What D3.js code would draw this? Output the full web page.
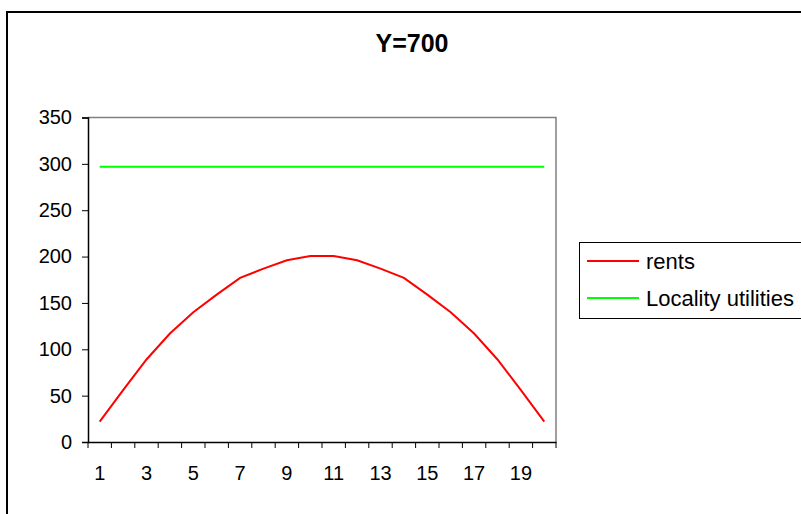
<!DOCTYPE html>
<html><head><meta charset="utf-8">
<script src="https://cdn.jsdelivr.net/npm/d3@7"></script>
<style>body{margin:0;background:#fff;} svg{display:block;font-family:"Liberation Sans",Arial,sans-serif;}</style>
</head><body>
<svg id="c" width="801" height="514"></svg>
<script>
const title = "Y=700";
const categories = d3.range(1, 21);
const rents = [22, 56, 89, 117, 140, 159, 177, 187, 196, 200.5, 200.5, 196, 187, 177, 159, 140, 117, 89, 56, 22];
const utilities = Array(20).fill(297);
const yTicks = [0, 50, 100, 150, 200, 250, 300, 350];
const seriesNames = ["rents", "Locality utilities"];
const seriesColors = ["#ff0000", "#00ff00"];

const svg = d3.select("#c");
svg.append("rect").attr("x", 7).attr("y", 12).attr("width", 900).attr("height", 600)
  .attr("fill", "#fff").attr("stroke", "#000").attr("stroke-width", 2);

const L = 88, R = 556, T = 117.5, B = 442;
const x = d3.scaleBand().domain(categories).range([L, R]);
const y = d3.scaleLinear().domain([0, 350]).range([B, T]);
const FONT = "Liberation Sans, Arial, sans-serif";

// plot frame
svg.append("path").attr("d", `M${L},${T}H${R}V${B}`).attr("fill", "none").attr("stroke", "#808080").attr("stroke-width", 1.5);

// y axis
const ya = svg.append("g").attr("transform", `translate(${L},0)`)
  .call(d3.axisLeft(y).tickValues(yTicks).tickSize(6).tickPadding(10));
ya.select(".domain").attr("stroke", "#000").attr("stroke-width", 1.5);
ya.selectAll(".tick line").attr("stroke", "#000");
ya.selectAll("text").attr("font-size", 20).attr("fill", "#000").attr("font-family", FONT);

// x axis
const xa = svg.append("g").attr("transform", `translate(0,${B})`)
  .call(d3.axisBottom(x).tickSize(0).tickPadding(24).tickFormat(d => d % 2 === 1 ? d : ""));
xa.select(".domain").attr("stroke", "#000").attr("stroke-width", 1.5);
xa.selectAll("text").attr("font-size", 20).attr("fill", "#000").attr("font-family", FONT);
xa.selectAll(".boundary").data(categories.concat([null])).enter().append("line")
  .attr("x1", (d, i) => L + i * x.step()).attr("x2", (d, i) => L + i * x.step())
  .attr("y1", 0).attr("y2", 6).attr("stroke", "#000");

const cx = d => x(d) + x.bandwidth() / 2;
const line = d3.line().x((d, i) => cx(categories[i])).y(d => y(d));
[rents, utilities].forEach((s, k) => {
  svg.append("path").datum(s).attr("d", line).attr("fill", "none")
    .attr("stroke", seriesColors[k]).attr("stroke-width", 2);
});

svg.append("text").attr("x", 412).attr("y", 52).attr("text-anchor", "middle")
  .attr("font-size", 25).attr("font-weight", "bold").attr("font-family", FONT).text(title);

// legend
const lg = svg.append("g");
lg.append("rect").attr("x", 579.5).attr("y", 242.5).attr("width", 300).attr("height", 76)
  .attr("fill", "#fff").attr("stroke", "#000").attr("stroke-width", 1);
seriesNames.forEach((n, k) => {
  const yy = 261 + k * 37;
  lg.append("line").attr("x1", 587).attr("x2", 639).attr("y1", yy).attr("y2", yy)
    .attr("stroke", seriesColors[k]).attr("stroke-width", 2);
  lg.append("text").attr("x", 646).attr("y", yy + 8).attr("font-size", 22).attr("font-family", FONT).text(n);
});
</script>
</body></html>
